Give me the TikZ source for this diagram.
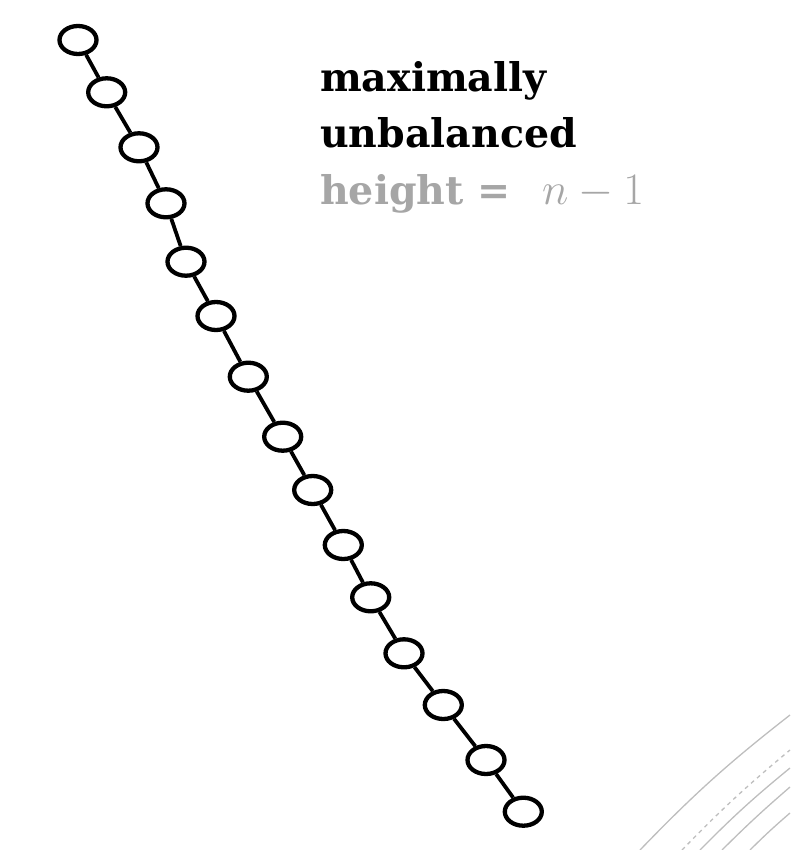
\documentclass[tikz,border=0pt]{standalone}
\usepackage{fix-cm}
\usepackage{fontspec}
\setmainfont{DejaVu Serif}
\usetikzlibrary{shapes.geometric}
\definecolor{txtgray}{HTML}{A6A6A6}
\definecolor{deco}{HTML}{BEBEBE}
\tikzset{
  tn/.style={ellipse,draw,line width=4.3pt,minimum width=37pt,minimum height=28pt,inner sep=0pt},
  tedge/.style={line width=3.8pt},
  lbl/.style={anchor=base west,inner sep=0pt,font=\bfseries\fontsize{39.5}{40}\selectfont},
  decoline/.style={draw=deco,line width=1.3pt}
}
\begin{document}
\begin{tikzpicture}[x=1pt,y=-1pt]
\useasboundingbox (0,0) rectangle (790,850);
\foreach \i/\x/\y in {1/78/40,2/106.7/92.3,3/139/147.3,4/166/203.3,5/186/261.7,6/216/316,7/248.3/376.7,8/282.7/436.7,9/312.7/490,10/343.3/545,11/370.7/597.3,12/404/653.3,13/443.3/705,14/486/760,15/523.3/811.7}
  \node[tn] (n\i) at (\x,\y) {};
\foreach \i [evaluate=\i as \j using int(\i+1)] in {1,...,14}
  \draw[tedge] (n\i) -- (n\j);
\node[lbl] (t1) at (320,92) {maximally};
\node[lbl] (t2) at (320,148) {unbalanced};
\node[lbl,text=txtgray] (t3) at (320,205) {height =\hspace{0.8em}{\fontsize{45}{45}\selectfont$n-1$}};
\coordinate (a1) at (640,850); \coordinate (b1) at (790,715);
\coordinate (a2) at (682,850); \coordinate (b2) at (790,750);
\coordinate (a3) at (700,850); \coordinate (b3) at (790,768);
\coordinate (a4) at (722,850); \coordinate (b4) at (790,787);
\coordinate (a5) at (750,850); \coordinate (b5) at (790,813);
\draw[decoline] (a1) to[bend left=4] (b1);
\draw[decoline,dash pattern=on 4pt off 4pt] (a2) to[bend left=3] (b2);
\draw[decoline] (a3) to[bend left=3] (b3);
\draw[decoline] (a4) to[bend left=2] (b4);
\draw[decoline] (a5) to[bend left=2] (b5);
\end{tikzpicture}
\end{document}
